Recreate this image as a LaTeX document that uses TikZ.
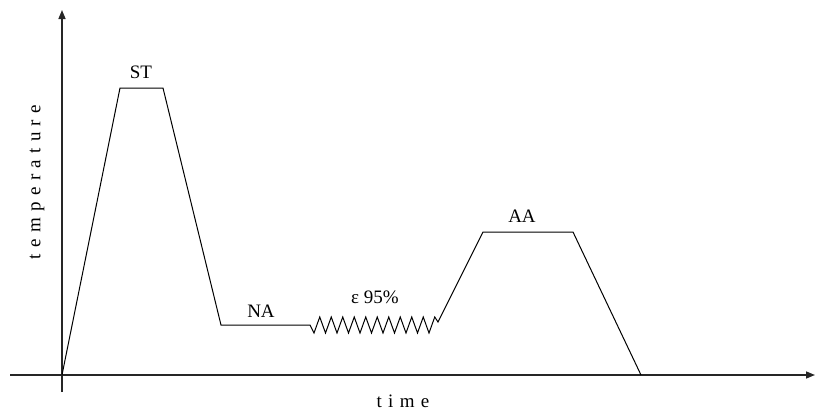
\documentclass[tikz,border=0pt]{standalone}
\usepackage{fontspec}
\setmainfont{Liberation Serif}
\usetikzlibrary{arrows.meta}
\begin{document}
\begin{tikzpicture}[x=1pt,y=-1pt,
  axis/.style={line width=1.5pt,draw=black!85,-{Triangle[length=9pt,width=7pt]}},
  curve/.style={line width=1pt,line join=miter},
  lbl/.style={font=\fontsize{19}{21}\selectfont,inner sep=0pt}]
\useasboundingbox (0,0) rectangle (815,415);
\coordinate (o) at (62,375);
\coordinate (xe) at (815,375);
\coordinate (xs) at (10,375);
\coordinate (ys) at (62,392);
\coordinate (ye) at (62,10);
\draw[axis] (xs) -- (xe);
\draw[axis] (ys) -- (ye);
\coordinate (p1) at (120,88);
\coordinate (p2) at (163,88);
\coordinate (p3) at (221,325);
\coordinate (p4) at (310,325);
\coordinate (p5) at (438,322);
\coordinate (p6) at (483,232);
\coordinate (p7) at (573,232);
\coordinate (p8) at (641,375);
\draw[curve] (o) -- (p1) -- (p2) -- (p3) -- (p4)
  \foreach \k in {0,...,10} { -- ({314+11.5*\k},333) -- ({319.75+11.5*\k},317) }
  -- (p5) -- (p6) -- (p7) -- (p8);
\node[lbl] (st) at (141,72) {ST};
\node[lbl] (na) at (261,311) {NA};
\node[lbl] (eps) at (375,297) {ε 95\%};
\node[lbl] (aa) at (522,216) {AA};
\node[lbl,rotate=90] (ty) at (37,182) {t\,\,e\,\,m\,\,p\,\,e\,\,r\,\,a\,\,t\,\,u\,\,r\,\,e};
\node[lbl] (tx) at (403,401) {t\,\,i\,\,m\,\,e};
\end{tikzpicture}
\end{document}
